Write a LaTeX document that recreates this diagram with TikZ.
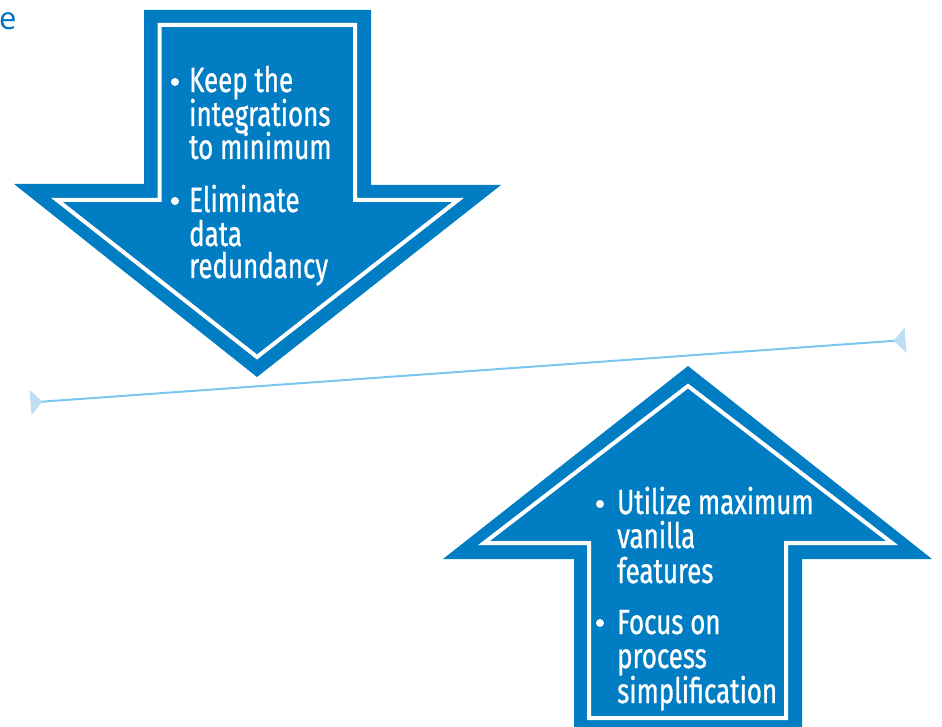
\documentclass[tikz,border=0pt]{standalone}
\usepackage{fontspec}
\setmainfont{Fira Sans}[FakeStretch=0.74, FakeBold=0.8]
\newfontfamily\efont{Open Sans}
\usetikzlibrary{arrows.meta}
\definecolor{arrowblue}{RGB}{0,125,195}
\definecolor{linkblue}{RGB}{125,198,236}
\definecolor{tipblue}{RGB}{190,222,243}
\definecolor{textblue}{RGB}{0,112,192}
\tikzset{
  bigarrow/.style={fill=arrowblue, draw=none},
  innerline/.style={draw=white, line width=4pt, line join=miter},
  itemline/.style={anchor=base west, inner sep=0pt, text=white, font=\fontsize{35}{34}\selectfont},
  bulletdot/.style={circle, fill=white, minimum size=8pt, inner sep=0pt},
  link/.style={draw=linkblue, line width=2pt,
    {Triangle[reversed, length=12pt, width=25pt, fill=tipblue, color=tipblue]}-{Triangle[reversed, length=12pt, width=25pt, fill=tipblue, color=tipblue]}}
}
\begin{document}
\begin{tikzpicture}[x=1pt, y=-1pt]
\useasboundingbox (0,0) rectangle (942,727);
\clip (0,0) rectangle (942,727);
% partial text at top left
\node[anchor=base west, inner sep=0pt, text=textblue, font=\efont\fontsize{31}{31}\selectfont] (etext) at (-1,30) {e};
% connector line
\coordinate (lend) at (30.5,402.5);
\coordinate (rend) at (905.5,340);
\draw[link] (lend) -- (rend);
% down arrow
\path[bigarrow] (144,10) -- (371,10) -- (371,185) -- (501,185) -- (257,377) -- (14,184) -- (144,184) -- cycle;
\draw[innerline] (159.5,25) -- (355,25) -- (355,200) -- (458,200) -- (257,357) -- (57,200) -- (159.5,200) -- cycle;
% up arrow
\path[bigarrow] (574,740) -- (574,559) -- (443,559) -- (688,366) -- (932,559) -- (802,559) -- (802,740) -- cycle;
\draw[innerline] (589,718) -- (589,543) -- (484,543) -- (688,386) -- (892,543) -- (786,543) -- (786,718) -- cycle;
% down arrow text
\node[bulletdot] (b1) at (175,82) {};
\node[itemline] (d1) at (189,92) {Keep the};
\node[itemline] (d2) at (189,126) {integrations};
\node[itemline] (d3) at (189,159) {to minimum};
\node[bulletdot] (b2) at (175,201) {};
\node[itemline] (d4) at (189,212) {Eliminate};
\node[itemline] (d5) at (189,246) {data};
\node[itemline] (d6) at (189,278) {redundancy};
% up arrow text
\node[bulletdot] (b3) at (600,504) {};
\node[itemline] (u1) at (617,514) {Utilize maximum};
\node[itemline] (u2) at (617,548) {vanilla};
\node[itemline] (u3) at (617,583) {features};
\node[bulletdot] (b4) at (600,623) {};
\node[itemline] (u4) at (617,634) {Focus on};
\node[itemline] (u5) at (617,668) {process};
\node[itemline] (u6) at (617,703) {simplification};
\end{tikzpicture}
\end{document}
